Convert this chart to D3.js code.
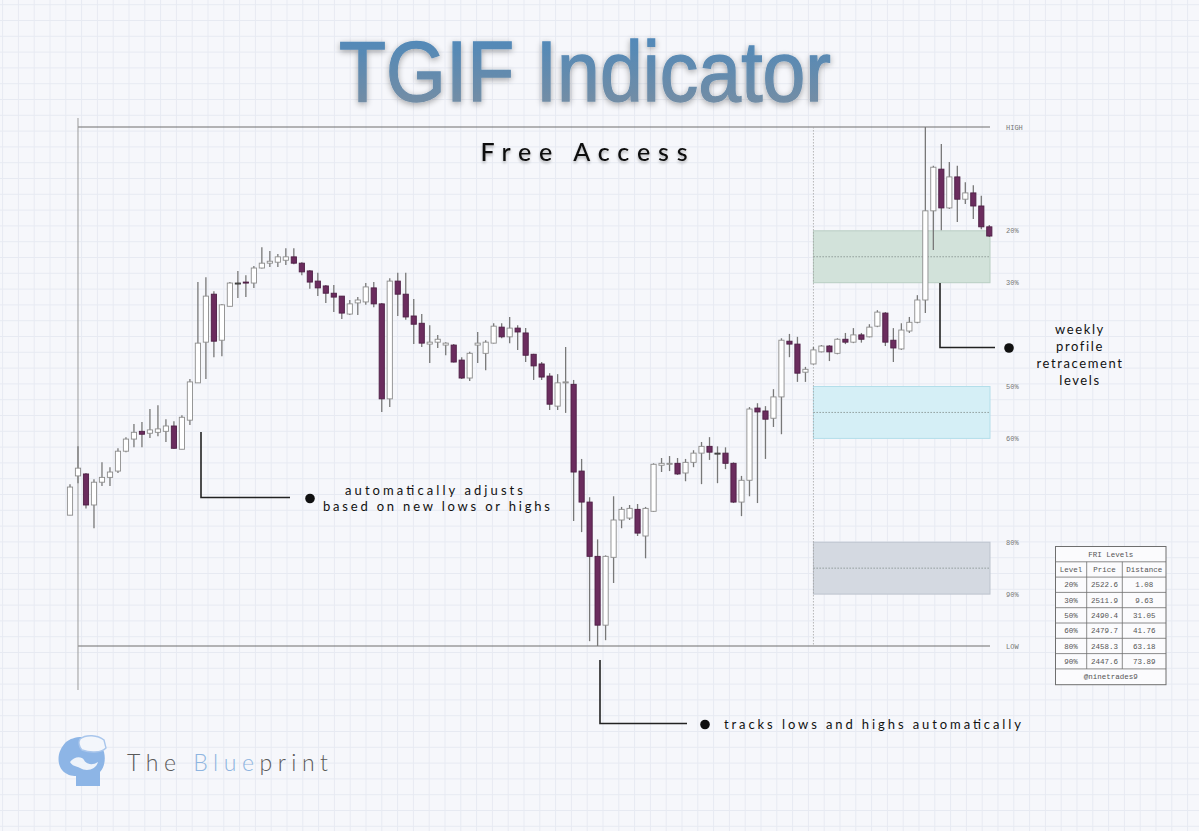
<!DOCTYPE html>
<html>
<head>
<meta charset="utf-8">
<script src="https://cdn.jsdelivr.net/npm/d3@7"></script>
<style>
html, body { margin: 0; padding: 0; background: #f6f7fb; }
svg { display: block; }
</style>
</head>
<body>
<div id="chart"></div>
<script>
// weekly profile range
var HIGH = 2544.0, LOW = 2436.9;
var weekStart = 93;

// table levels
var levelPct = [20, 30, 50, 60, 80, 90];
var levelPrice = [2522.6, 2511.9, 2490.4, 2479.7, 2458.3, 2447.6];
var levelDist = ["1.08", "9.63", "31.05", "41.76", "63.18", "73.89"];
var zonePairs = [[20, 30], [50, 60], [80, 90]];

// candles
var opens = [
2463.9, 2472.0, 2472.4, 2466.0, 2470.7, 2471.7, 2473.0, 2477.1, 2479.6, 2481.2,
2480.8, 2481.0, 2481.2, 2482.3, 2477.5, 2483.5, 2491.2, 2499.6, 2509.5, 2500.0,
2507.0, 2511.8, 2512.0, 2511.8, 2514.9, 2515.9, 2516.1, 2516.5, 2517.2, 2515.9,
2514.3, 2512.2, 2511.2, 2509.7, 2509.1, 2505.4, 2507.7, 2507.9, 2510.8, 2507.5,
2487.9, 2512.2, 2509.5, 2505.0, 2503.5, 2499.2, 2499.6, 2499.0, 2499.0, 2495.9,
2492.2, 2499.0, 2497.3, 2499.4, 2502.7, 2500.7, 2502.5, 2501.5, 2497.1, 2495.1,
2492.6, 2486.4, 2491.2, 2490.9, 2473.0, 2466.6, 2455.4, 2441.2, 2455.2, 2462.9,
2463.3, 2465.1, 2459.6, 2464.7, 2474.2, 2474.4, 2474.6, 2472.6, 2474.8, 2476.7,
2478.1, 2476.7, 2476.7, 2474.6, 2466.6, 2471.1, 2486.0, 2485.4, 2483.9, 2488.3,
2499.8, 2499.2, 2493.4, 2495.1, 2497.6, 2498.8, 2497.3, 2500.2, 2499.6, 2501.1,
2500.7, 2502.9, 2505.6, 2500.0, 2498.2, 2501.9, 2503.7, 2508.3, 2526.7, 2535.3,
2527.3, 2533.7, 2529.1, 2530.4, 2527.7, 2523.4
];
var highs = [
2470.3, 2478.1, 2472.6, 2471.3, 2474.8, 2473.8, 2477.7, 2480.0, 2482.7, 2483.1,
2485.8, 2486.6, 2483.7, 2483.3, 2484.5, 2492.0, 2512.0, 2513.0, 2510.1, 2507.5,
2512.0, 2514.3, 2513.4, 2515.3, 2519.2, 2518.4, 2517.8, 2519.0, 2519.0, 2516.1,
2514.5, 2513.9, 2511.4, 2511.4, 2509.1, 2508.3, 2508.9, 2511.8, 2512.0, 2507.7,
2512.8, 2513.9, 2513.9, 2508.5, 2505.4, 2503.1, 2501.1, 2499.6, 2499.2, 2496.5,
2497.6, 2501.7, 2500.0, 2503.5, 2503.5, 2504.8, 2503.1, 2502.5, 2497.2, 2495.5,
2493.2, 2493.0, 2498.6, 2491.8, 2475.5, 2467.6, 2458.9, 2455.6, 2467.8, 2465.6,
2466.0, 2466.2, 2465.6, 2474.6, 2475.7, 2476.1, 2475.7, 2475.5, 2477.3, 2479.0,
2480.0, 2478.1, 2477.9, 2474.8, 2472.0, 2486.2, 2487.0, 2486.4, 2489.9, 2500.4,
2501.3, 2500.7, 2494.5, 2498.6, 2499.0, 2499.0, 2500.4, 2501.5, 2502.5, 2501.5,
2503.3, 2506.2, 2505.8, 2502.5, 2503.5, 2504.8, 2509.3, 2544.0, 2536.0, 2540.5,
2536.8, 2536.0, 2532.6, 2532.0, 2529.8, 2523.8
];
var lows = [
2463.9, 2470.5, 2465.3, 2461.2, 2469.9, 2469.9, 2472.6, 2476.9, 2477.9, 2477.9,
2479.8, 2480.2, 2479.0, 2477.6, 2477.5, 2482.5, 2491.2, 2492.0, 2496.5, 2496.7,
2507.0, 2508.7, 2508.9, 2510.8, 2514.8, 2515.1, 2515.1, 2515.5, 2515.7, 2513.4,
2510.6, 2509.1, 2507.7, 2505.8, 2504.4, 2505.2, 2505.2, 2507.3, 2506.8, 2485.2,
2486.2, 2505.0, 2504.2, 2499.2, 2498.6, 2495.3, 2498.4, 2496.9, 2495.4, 2492.0,
2491.6, 2495.3, 2493.8, 2499.3, 2500.4, 2499.4, 2498.0, 2495.5, 2491.8, 2491.8,
2485.6, 2485.6, 2485.0, 2462.7, 2460.4, 2437.9, 2436.9, 2438.1, 2449.9, 2461.2,
2462.9, 2459.6, 2455.0, 2464.6, 2472.8, 2473.0, 2472.2, 2470.9, 2473.8, 2470.3,
2475.3, 2470.5, 2473.4, 2466.4, 2463.7, 2467.8, 2466.4, 2475.5, 2482.1, 2480.6,
2496.5, 2491.4, 2491.4, 2495.0, 2497.5, 2495.7, 2497.1, 2499.2, 2499.4, 2499.5,
2500.6, 2502.7, 2498.8, 2495.5, 2498.0, 2501.5, 2503.5, 2505.6, 2518.6, 2522.7,
2527.1, 2524.4, 2528.1, 2525.0, 2522.9, 2521.3
];
var closes = [
2469.7, 2473.6, 2466.0, 2470.7, 2471.7, 2472.8, 2477.1, 2479.6, 2481.0, 2480.6,
2481.5, 2481.7, 2482.3, 2477.7, 2484.1, 2491.4, 2499.4, 2509.1, 2499.8, 2507.3,
2511.8, 2511.8, 2511.8, 2514.9, 2515.9, 2516.3, 2517.2, 2517.2, 2515.9, 2514.1,
2512.0, 2510.8, 2509.7, 2508.9, 2505.6, 2507.5, 2508.3, 2511.0, 2507.5, 2487.9,
2512.2, 2509.5, 2504.8, 2503.3, 2499.4, 2499.6, 2500.2, 2499.4, 2495.5, 2492.2,
2497.3, 2499.4, 2499.6, 2502.9, 2500.7, 2502.5, 2501.7, 2496.9, 2494.7, 2492.4,
2486.8, 2491.2, 2491.4, 2472.8, 2466.6, 2455.4, 2441.2, 2455.4, 2462.9, 2465.1,
2465.3, 2460.2, 2465.3, 2474.4, 2474.6, 2474.6, 2472.4, 2474.8, 2476.7, 2478.1,
2476.9, 2476.7, 2474.6, 2466.6, 2471.1, 2485.8, 2485.2, 2483.7, 2488.3, 2500.0,
2499.2, 2493.2, 2494.0, 2498.0, 2498.8, 2497.6, 2500.2, 2499.6, 2501.1, 2500.2,
2502.7, 2505.8, 2499.6, 2498.4, 2502.1, 2503.7, 2508.3, 2526.7, 2535.7, 2527.3,
2533.7, 2529.1, 2530.4, 2527.7, 2523.4, 2521.5
];

var W = 1199, H = 831;
var zoneFill = ["#d2e2da", "#d5eff6", "#d4d9e1"];
var zoneLine = ["#b8cec2", "#b3deea", "#bcc3cd"];
var bear = "#6b2c5e", bearEdge = "#4e1f45";

var svg = d3.select("#chart").append("svg")
    .attr("width", W)
    .attr("height", H)
    .style("font-family", "Lato, 'Open Sans', sans-serif");

var defs = svg.append("defs");
var pat = defs.append("pattern")
    .attr("id", "grid")
    .attr("patternUnits", "userSpaceOnUse")
    .attr("width", 15.8).attr("height", 15.8)
    .attr("x", 2.1).attr("y", 4.2);
pat.append("path")
    .attr("d", "M15.8 0.5 L0.5 0.5 0.5 15.8")
    .attr("fill", "none")
    .attr("stroke", "#e7eaf2")
    .attr("stroke-width", 1);

var grad = defs.append("linearGradient")
    .attr("id", "titleGrad")
    .attr("x1", 0).attr("y1", 0).attr("x2", 0).attr("y2", 1);
grad.append("stop").attr("offset", "0%").attr("stop-color", "#4a88bd");
grad.append("stop").attr("offset", "100%").attr("stop-color", "#7b8ea0");

var glow = defs.append("filter").attr("id", "glow")
    .attr("x", "-10%").attr("y", "-30%").attr("width", "120%").attr("height", "160%");
glow.append("feGaussianBlur").attr("in", "SourceAlpha").attr("stdDeviation", 3).attr("result", "b");
glow.append("feOffset").attr("in", "b").attr("dy", 2).attr("result", "o");
glow.append("feComponentTransfer").attr("in", "o").attr("result", "s")
    .append("feFuncA").attr("type", "linear").attr("slope", 0.35);
var gm = glow.append("feMerge");
gm.append("feMergeNode").attr("in", "s");
gm.append("feMergeNode").attr("in", "SourceGraphic");

var soft = defs.append("filter").attr("id", "soft")
    .attr("x", "-10%").attr("y", "-30%").attr("width", "120%").attr("height", "160%");
soft.append("feGaussianBlur").attr("in", "SourceAlpha").attr("stdDeviation", 1.5).attr("result", "b");
soft.append("feOffset").attr("in", "b").attr("dy", 2).attr("result", "o");
soft.append("feComponentTransfer").attr("in", "o").attr("result", "s")
    .append("feFuncA").attr("type", "linear").attr("slope", 0.3);
var sm = soft.append("feMerge");
sm.append("feMergeNode").attr("in", "s");
sm.append("feMergeNode").attr("in", "SourceGraphic");

svg.append("rect").attr("width", W).attr("height", H).attr("fill", "#f6f7fb");
svg.append("rect").attr("width", W).attr("height", H).attr("fill", "url(#grid)");

// scales
var x = d3.scaleLinear().domain([0, closes.length - 1]).range([70, 989.3]);
var y = d3.scaleLinear().domain([LOW, HIGH]).range([646, 127]);
var pctPrice = function(p) { return HIGH - (HIGH - LOW) * p / 100; };

// title
svg.append("text")
    .attr("x", 585).attr("y", 101)
    .attr("text-anchor", "middle")
    .attr("textLength", 492)
    .attr("lengthAdjust", "spacingAndGlyphs")
    .style("font-family", "'Liberation Sans', Arial, sans-serif")
    .style("font-size", "85px")
    .attr("fill", "url(#titleGrad)")
    .attr("stroke", "url(#titleGrad)")
    .attr("stroke-width", 1.4)
    .attr("filter", "url(#glow)")
    .text("TGIF Indicator");

svg.append("text")
    .attr("x", 584).attr("y", 161)
    .attr("text-anchor", "middle")
    .attr("textLength", 207)
    .attr("lengthAdjust", "spacing")
    .style("font-size", "25px")
    .style("font-weight", 500)
    .attr("fill", "#111")
    .attr("filter", "url(#soft)")
    .text("Free Access");

// zones of the current week
var zg = svg.append("g");
zonePairs.forEach(function(z, k) {
    var top = y(pctPrice(z[0])), bot = y(pctPrice(z[1]));
    zg.append("rect")
        .attr("x", x(weekStart)).attr("y", top)
        .attr("width", x(closes.length - 1) - x(weekStart) + 0.7)
        .attr("height", bot - top)
        .attr("fill", zoneFill[k])
        .attr("stroke", zoneLine[k])
        .attr("stroke-width", 1);
    zg.append("line")
        .attr("x1", x(weekStart)).attr("x2", x(closes.length - 1))
        .attr("y1", y(pctPrice((z[0] + z[1]) / 2))).attr("y2", y(pctPrice((z[0] + z[1]) / 2)))
        .attr("stroke", "#7f8a88")
        .attr("stroke-width", 0.8)
        .attr("stroke-dasharray", "1.5,1.5");
});

// week range lines
svg.append("line")
    .attr("x1", x(1)).attr("x2", x(closes.length - 1) + 0.7)
    .attr("y1", y(HIGH)).attr("y2", y(HIGH))
    .attr("stroke", "#6e6e6e").attr("stroke-width", 1.1);
svg.append("line")
    .attr("x1", x(1)).attr("x2", x(closes.length - 1) + 0.7)
    .attr("y1", y(LOW)).attr("y2", y(LOW))
    .attr("stroke", "#6e6e6e").attr("stroke-width", 1.1);
svg.append("line")
    .attr("x1", x(1)).attr("x2", x(1))
    .attr("y1", y(HIGH) - 9).attr("y2", y(LOW) + 44)
    .attr("stroke", "#9a9a9a").attr("stroke-width", 1);
svg.append("line")
    .attr("x1", x(weekStart)).attr("x2", x(weekStart))
    .attr("y1", y(HIGH)).attr("y2", y(LOW))
    .attr("stroke", "#a5a5a5").attr("stroke-width", 0.8)
    .attr("stroke-dasharray", "1.5,1.5");

// candles
var idx = d3.range(closes.length);
var cg = svg.append("g");
cg.selectAll(".wick")
    .data(idx)
    .enter().append("line")
    .attr("class", "wick")
    .attr("x1", function(i) { return x(i); })
    .attr("x2", function(i) { return x(i); })
    .attr("y1", function(i) { return y(highs[i]); })
    .attr("y2", function(i) { return y(lows[i]); })
    .attr("stroke", "#787878")
    .attr("stroke-width", 1.3);
cg.selectAll(".body")
    .data(idx)
    .enter().append("rect")
    .attr("class", "body")
    .attr("x", function(i) { return x(i) - 2.6; })
    .attr("width", 5.2)
    .attr("y", function(i) { return y(Math.max(opens[i], closes[i])); })
    .attr("height", function(i) {
        return Math.max(Math.abs(y(opens[i]) - y(closes[i])), 1);
    })
    .attr("fill", function(i) { return closes[i] < opens[i] ? bear : "#ffffff"; })
    .attr("stroke", function(i) {
        if (closes[i] < opens[i]) return bearEdge;
        if (closes[i] == opens[i]) return "#333";
        return "#8c8c8c";
    })
    .attr("stroke-width", 0.9);

// right labels
var axisVals = [HIGH].concat(levelPrice).concat([LOW]);
var axisText = ["HIGH"].concat(levelPct.map(function(p) { return p + "%"; })).concat(["LOW"]);
var ax = svg.append("g")
    .attr("transform", "translate(1004,0)")
    .call(d3.axisRight(y)
        .tickValues(axisVals)
        .tickSize(0)
        .tickPadding(2)
        .tickFormat(function(d, i) { return axisText[i]; }));
ax.select(".domain").remove();
ax.selectAll("text")
    .style("font-family", "'Liberation Mono', 'DejaVu Sans Mono', monospace")
    .style("font-size", "7px")
    .attr("fill", "#777");

// annotations
var an = svg.append("g").attr("fill", "#111");
function bracket(pts) {
    an.append("path")
        .attr("d", d3.line()(pts))
        .attr("fill", "none")
        .attr("stroke", "#222")
        .attr("stroke-width", 1.6);
}
bracket([[201, 432], [201, 497.5], [290, 497.5]]);
an.append("circle").attr("cx", 310).attr("cy", 498.5).attr("r", 4.8);
an.append("text").attr("x", 434).attr("y", 495).attr("text-anchor", "middle")
    .attr("textLength", 178).attr("lengthAdjust", "spacing")
    .style("font-size", "13px").text("automatically adjusts");
an.append("text").attr("x", 436.5).attr("y", 511).attr("text-anchor", "middle")
    .attr("textLength", 227).attr("lengthAdjust", "spacing")
    .style("font-size", "13px").text("based on new lows or highs");

bracket([[940, 283], [940, 347.5], [995, 347.5]]);
an.append("circle").attr("cx", 1009).attr("cy", 348).attr("r", 4.8);
["weekly", "profile", "retracement", "levels"].forEach(function(t, k) {
    an.append("text").attr("x", 1080).attr("y", 334 + k * 17)
        .attr("text-anchor", "middle")
        .style("font-size", "13px")
        .style("letter-spacing", "1.6px")
        .text(t);
});

bracket([[600, 660], [600, 723.5], [687, 723.5]]);
an.append("circle").attr("cx", 705).attr("cy", 724.5).attr("r", 4.8);
an.append("text").attr("x", 724).attr("y", 729)
    .attr("textLength", 297).attr("lengthAdjust", "spacing")
    .style("font-size", "13px").text("tracks lows and highs automatically");

// levels table
var tx = 1055.5, tw = 110.5, rowH = 15.3;
var colX = [1055.5, 1086.7, 1122.3, 1166];
var tg = svg.append("g")
    .style("font-family", "'Liberation Mono', 'DejaVu Sans Mono', monospace")
    .style("font-size", "7.5px");
var rows = 9;
var ty = 546.5;
tg.append("rect").attr("x", tx).attr("y", ty).attr("width", tw).attr("height", rowH * rows + 0.5)
    .attr("fill", "#fbfbfd").attr("stroke", "#6f6f6f").attr("stroke-width", 1);
d3.range(1, rows).forEach(function(r) {
    tg.append("line").attr("x1", tx).attr("x2", tx + tw)
        .attr("y1", ty + r * rowH).attr("y2", ty + r * rowH)
        .attr("stroke", "#6f6f6f").attr("stroke-width", 0.8);
});
[1, 2].forEach(function(c) {
    tg.append("line").attr("x1", colX[c]).attr("x2", colX[c])
        .attr("y1", ty + rowH).attr("y2", ty + rowH * 8)
        .attr("stroke", "#6f6f6f").attr("stroke-width", 0.8);
});
function cell(txt, c, r) {
    tg.append("text")
        .attr("x", (colX[c] + colX[c + 1]) / 2)
        .attr("y", ty + r * rowH + rowH / 2 + 2.6)
        .attr("text-anchor", "middle")
        .attr("fill", "#555")
        .text(txt);
}
tg.append("text").attr("x", tx + tw / 2).attr("y", ty + rowH / 2 + 2.6)
    .attr("text-anchor", "middle").attr("fill", "#555").text("FRI Levels");
cell("Level", 0, 1); cell("Price", 1, 1); cell("Distance", 2, 1);
levelPct.forEach(function(p, k) {
    cell(p + "%", 0, k + 2);
    cell(levelPrice[k].toFixed(1), 1, k + 2);
    cell(levelDist[k], 2, k + 2);
});
tg.append("text").attr("x", tx + tw / 2).attr("y", ty + 8 * rowH + rowH / 2 + 2.6)
    .attr("text-anchor", "middle").attr("fill", "#555").text("@ninetrades9");

// logo
var lg = svg.append("g");
lg.append("path")
    .attr("d", "M66 742 C58 750 56 762 62 770 C66 775 72 776 76 776 L76 786 L100 786 L100 772 C104 768 106 760 104 752 C101 742 92 737 82 737 C75 737 70 739 66 742 Z")
    .attr("fill", "#8db5e6");
lg.append("path")
    .attr("d", "M80 739 C86 734 98 735 104 740 L106 748 C101 753 90 753 82 750 C79 747 78 742 80 739 Z")
    .attr("fill", "#f3f6fb").attr("stroke", "#a9c6ec").attr("stroke-width", 1.4);
lg.append("path")
    .attr("d", "M70 762 C74 756 82 756 84 760 C86 764 92 766 98 762 C96 770 86 772 80 768 C76 766 72 766 70 762 Z")
    .attr("fill", "#eef3fa");
var bt = svg.append("text")
    .attr("x", 127).attr("y", 771)
    .attr("textLength", 201).attr("lengthAdjust", "spacing")
    .style("font-size", "23px")
    .style("font-weight", 300)
    .attr("fill", "#5a5a5a");
bt.append("tspan").text("The ");
bt.append("tspan").attr("fill", "#8fb5e0").text("Blue");
bt.append("tspan").text("print");
</script>
</body>
</html>
